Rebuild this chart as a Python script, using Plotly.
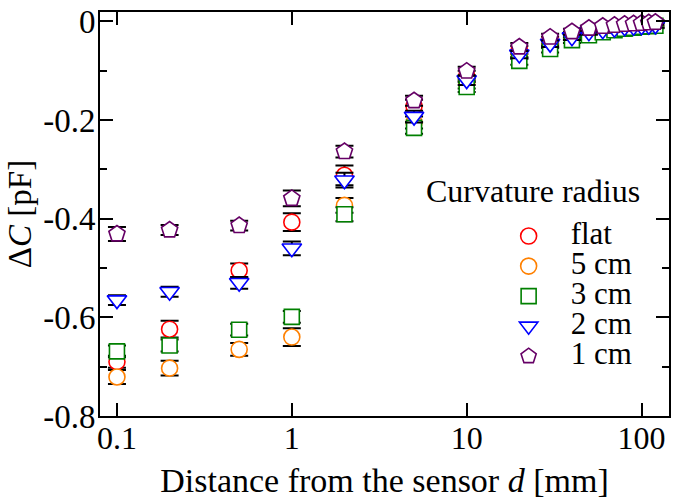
import plotly.graph_objects as go

# distances d [mm]
distance_mm = [0.1, 0.2, 0.5, 1, 2, 5, 10, 20, 30, 40, 50, 60, 70, 80, 90, 100, 110, 120]

# Delta C [pF] for each curvature radius
flat = [-0.690, -0.624, -0.505, -0.407, -0.312, -0.172, -0.110, -0.058, -0.038, -0.027,
        -0.019, -0.015, -0.012, -0.010, -0.008, -0.007, -0.006, -0.005]
r5cm = [-0.721, -0.703, -0.665, -0.640, -0.373, -0.205, -0.126, -0.068, -0.047, -0.032,
        -0.024, -0.019, -0.016, -0.013, -0.011, -0.010, -0.009, -0.008]
r3cm = [-0.669, -0.657, -0.625, -0.599, -0.391, -0.216, -0.133, -0.080, -0.056, -0.038,
        -0.028, -0.022, -0.018, -0.015, -0.013, -0.011, -0.010, -0.009]
r2cm = [-0.565, -0.548, -0.530, -0.460, -0.322, -0.193, -0.119, -0.067, -0.045, -0.032,
        -0.022, -0.018, -0.015, -0.012, -0.011, -0.010, -0.009, -0.008]
r1cm = [-0.431, -0.423, -0.414, -0.359, -0.264, -0.161, -0.101, -0.052, -0.032, -0.021,
        -0.014, -0.010, -0.008, -0.006, -0.005, -0.004, -0.003, -0.002]

# error bars (standard deviation) [pF]
flat_err = [0.012, 0.017, 0.014, 0.018, 0.020, 0.013, 0.010, 0.008, 0.007, 0.006,
            0.005, 0.005, 0.005, 0.005, 0.005, 0.005, 0.005, 0.005]
r5cm_err = [0.014, 0.015, 0.013, 0.018, 0.015, 0.012, 0.010, 0.008, 0.007, 0.006,
            0.005, 0.005, 0.005, 0.005, 0.005, 0.005, 0.005, 0.005]
r3cm_err = [0.012, 0.012, 0.012, 0.012, 0.014, 0.012, 0.010, 0.008, 0.007, 0.006,
            0.005, 0.005, 0.005, 0.005, 0.005, 0.005, 0.005, 0.005]
r2cm_err = [0.010, 0.010, 0.012, 0.014, 0.015, 0.012, 0.010, 0.008, 0.007, 0.006,
            0.005, 0.005, 0.005, 0.005, 0.005, 0.005, 0.005, 0.005]
r1cm_err = [0.014, 0.010, 0.010, 0.016, 0.012, 0.010, 0.009, 0.008, 0.007, 0.006,
            0.005, 0.005, 0.005, 0.005, 0.005, 0.005, 0.005, 0.005]

series_names = ["flat", "5 cm", "3 cm", "2 cm", "1 cm"]
series_values = [flat, r5cm, r3cm, r2cm, r1cm]
series_errors = [flat_err, r5cm_err, r3cm_err, r2cm_err, r1cm_err]
series_colors = ["#ff0000", "#ff8000", "#008000", "#0000ff", "#660066"]
series_symbols = ["circle", "circle", "square", "triangle-down", "pentagon"]
series_sizes = [16, 16, 15, 17, 17]

x_tickvals = [0.1, 1, 10, 100]
x_ticktext = ["0.1", "1", "10", "100"]
y_tickvals = [0, -0.2, -0.4, -0.6, -0.8]
y_ticktext = ["0", "-0.2", "-0.4", "-0.6", "-0.8"]
y_minor_vals = [-0.1, -0.3, -0.5, -0.7]

FONT = "Liberation Serif"

fig = go.Figure()
for name, vals, errs, col, sym, sz in zip(series_names, series_values, series_errors,
                                           series_colors, series_symbols, series_sizes):
    fig.add_trace(go.Scatter(
        x=distance_mm, y=vals, mode="markers",
        name=f'<span style="font-size:31px">{name}</span>',
        marker=dict(symbol=sym, size=sz, color="white",
                    line=dict(color=col, width=1.6)),
        error_y=dict(type="data", array=errs, color="black", thickness=2, width=9),
    ))

fig.update_layout(
    width=675, height=499,
    margin=dict(l=100, r=4, t=6, b=83),
    paper_bgcolor="white", plot_bgcolor="white",
    font=dict(family=FONT, size=32, color="black"),
    showlegend=True,
    legend=dict(x=0.6795, y=0.495, xanchor="left", yanchor="top",
                font=dict(family=FONT, size=20.8, color="black"),
                itemwidth=74, bgcolor="rgba(0,0,0,0)", borderwidth=0,
                tracegroupgap=0),
    annotations=[dict(text="Curvature radius", xref="paper", yref="paper",
                      x=0.569, y=0.556, xanchor="left", yanchor="middle",
                      showarrow=False, font=dict(family=FONT, size=32, color="black"))],
)

fig.update_xaxes(
    type="log", range=[-1.097, 2.157],
    tickmode="array", tickvals=x_tickvals, ticktext=x_ticktext,
    ticks="inside", ticklen=13, tickwidth=2, tickcolor="black",
    showline=True, linewidth=2, linecolor="black", mirror="ticks",
    showgrid=False, zeroline=False, ticklabeloverflow="allow",
    ticklabelstandoff=-7,
    tickfont=dict(family=FONT, size=32, color="black"),
    title=dict(text="Distance from the sensor <i>d</i> [mm]",
               font=dict(family=FONT, size=34, color="black"), standoff=13),
)
fig.update_yaxes(
    range=[-0.8, 0.019],
    tickmode="array", tickvals=y_tickvals, ticktext=y_ticktext,
    ticks="inside", ticklen=13, tickwidth=2, tickcolor="black",
    minor=dict(tickvals=y_minor_vals, ticks="inside", ticklen=7, tickwidth=2,
               tickcolor="black", showgrid=False),
    showline=True, linewidth=2, linecolor="black", mirror="ticks",
    showgrid=False, zeroline=False, ticklabeloverflow="allow",
    ticklabelstandoff=-4,
    tickfont=dict(family=FONT, size=33, color="black"),
    title=dict(text="Δ<i>C</i> [pF]",
               font=dict(family=FONT, size=33, color="black"), standoff=2),
)

fig.write_html("out.html", config={"displayModeBar": False},
               post_script="document.body.style.margin='0';document.body.style.overflow='hidden';")
